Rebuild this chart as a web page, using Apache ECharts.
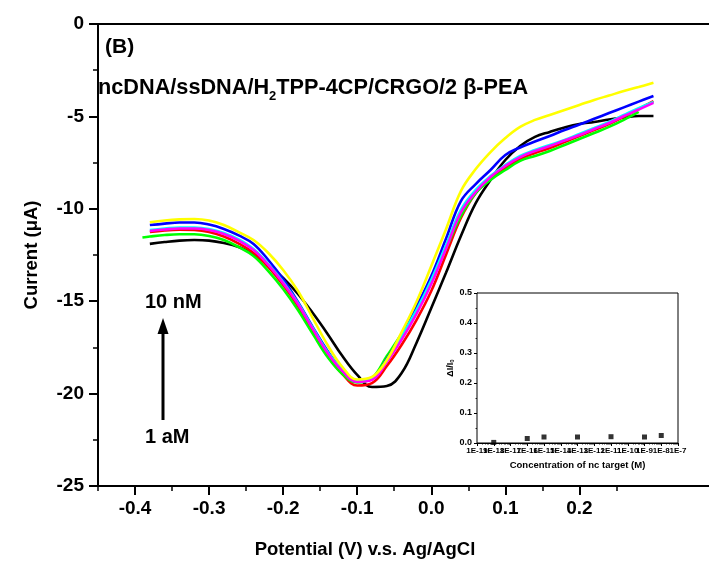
<!DOCTYPE html>
<html>
<head>
<meta charset="utf-8">
<script src="https://cdn.jsdelivr.net/npm/echarts@6/dist/echarts.min.js"></script>
<style>html,body{margin:0;padding:0;background:#fff}#c{width:709px;height:565px}</style>
</head>
<body>
<div id="c"></div>
<script>
// Main DPV curves: potential (V) vs current (uA)
const potentials = [-0.39, -0.38, -0.36, -0.34, -0.32, -0.30, -0.28, -0.26, -0.24, -0.22, -0.20, -0.18, -0.16, -0.14, -0.12, -0.10, -0.08, -0.06, -0.04, -0.02, 0.00, 0.02, 0.04, 0.06, 0.08, 0.10, 0.12, 0.14, 0.16, 0.18, 0.20, 0.22, 0.24, 0.26, 0.28, 0.30];
const curBlack   = [null, -11.90, -11.80, -11.72, -11.69, -11.72, -11.85, -12.07, -12.45, -13.04, -13.74, -14.61, -15.64, -16.77, -17.97, -18.99, -19.64, -19.59, -18.89, -17.26, -15.37, -13.45, -11.47, -9.69, -8.44, -7.36, -6.60, -6.11, -5.84, -5.60, -5.41, -5.30, -5.17, -5.06, -4.98, -4.98];
const curRed     = [null, -11.26, -11.17, -11.13, -11.15, -11.26, -11.50, -11.88, -12.39, -13.15, -14.12, -15.26, -16.61, -17.91, -18.94, -19.56, -19.43, -18.51, -17.36, -16.02, -14.45, -12.47, -10.50, -9.15, -8.39, -7.79, -7.31, -6.98, -6.71, -6.39, -6.06, -5.74, -5.41, -5.03, -4.60, -4.17];
const curGreen   = [-11.55, -11.50, -11.42, -11.38, -11.38, -11.47, -11.69, -12.07, -12.55, -13.37, -14.34, -15.48, -16.77, -18.02, -18.94, -19.40, -19.16, -17.97, -16.76, -15.48, -13.91, -12.15, -10.39, -9.15, -8.44, -7.90, -7.41, -7.14, -6.87, -6.55, -6.22, -5.90, -5.57, -5.19, -4.76, null];
const curBlue    = [null, -10.88, -10.80, -10.74, -10.74, -10.85, -11.09, -11.44, -11.90, -12.77, -13.80, -15.04, -16.40, -17.69, -18.72, -19.29, -19.21, -18.13, -16.87, -15.31, -13.64, -11.61, -9.58, -8.66, -7.90, -7.09, -6.68, -6.36, -6.06, -5.74, -5.44, -5.13, -4.82, -4.51, -4.20, -3.90];
const curCyan    = [null, -11.15, -11.07, -11.01, -11.01, -11.09, -11.31, -11.66, -12.18, -12.99, -13.96, -15.10, -16.45, -17.75, -18.72, -19.32, -19.21, -18.18, -16.88, -15.48, -13.85, -11.96, -10.06, -8.98, -8.23, -7.63, -7.14, -6.82, -6.55, -6.28, -5.95, -5.63, -5.30, -4.92, -4.55, -4.22];
const curMagenta = [null, -11.20, -11.12, -11.07, -11.07, -11.15, -11.36, -11.72, -12.23, -13.04, -14.02, -15.15, -16.50, -17.80, -18.78, -19.37, -19.26, -18.29, -17.08, -15.69, -14.07, -12.15, -10.20, -9.09, -8.28, -7.68, -7.20, -6.87, -6.60, -6.30, -6.01, -5.68, -5.36, -4.98, -4.63, -4.27];
const curYellow  = [null, -10.73, -10.63, -10.57, -10.55, -10.63, -10.88, -11.26, -11.69, -12.39, -13.31, -14.45, -15.91, -17.37, -18.56, -19.24, -19.10, -18.18, -16.67, -15.04, -13.10, -11.09, -9.04, -7.85, -6.93, -6.17, -5.57, -5.19, -4.92, -4.65, -4.38, -4.11, -3.87, -3.63, -3.41, -3.18];
const curveNames  = ['1 aM', '100 aM', '1 fM', '100 fM', '10 pM', '1 nM', '10 nM'];
const curveColors = ['#000000', '#ff0000', '#00ff00', '#0000ff', '#00ffff', '#ff00ff', '#ffff00'];
const curveData   = [curBlack, curRed, curGreen, curBlue, curCyan, curMagenta, curYellow];

// Main axis ticks
const xMajorTicks = [-0.4, -0.3, -0.2, -0.1, 0.0, 0.1, 0.2];
const xMinorTicks = [-0.45, -0.35, -0.25, -0.15, -0.05, 0.05, 0.15, 0.25];

// Inset: relative response vs concentration
const insetConc = [1e-18, 1e-16, 1e-15, 1e-13, 1e-11, 1e-9, 1e-8];
const insetResp = [0.002, 0.015, 0.020, 0.020, 0.021, 0.020, 0.025];
const insetLabelsOdd  = [-19, -17, -15, -13, -11, -9, -7];   // exponents of the inset tick labels
const insetLabelsEven = [-18, -16, -14, -12, -10, -8];
const insetMinorTicks = [];
for (let d = -19; d < -7; d++) { for (let k = 2; k <= 9; k++) insetMinorTicks.push(d + Math.log10(k)); }

const FF = '"Liberation Sans", Arial, sans-serif';
const chart = echarts.init(document.getElementById('c'), null, {renderer: 'canvas'});

const series = curveData.map((arr, i) => ({
  type: 'line', name: curveNames[i], xAxisIndex: 0, yAxisIndex: 0,
  data: potentials.map((p, j) => [p, arr[j]]),
  showSymbol: false, smooth: 0.4, connectNulls: false,
  lineStyle: {color: curveColors[i], width: 2.6}, itemStyle: {color: curveColors[i]},
  z: 2 + i, silent: true, animation: false
}));
series.push({
  type: 'scatter', xAxisIndex: 3, yAxisIndex: 1,
  data: insetConc.map((c, j) => [Math.log10(c), insetResp[j]]),
  symbol: 'rect', symbolSize: 5, itemStyle: {color: '#000'}, z: 20, animation: false
});

const axisBlack = {show: true, onZero: false, lineStyle: {color: '#000', width: 2}};
const insetLabelStyle = {margin: 4, color: '#000', fontSize: 8, fontWeight: 'bold', fontFamily: FF, hideOverlap: false,
                         showMinLabel: true, showMaxLabel: true, formatter: v => '1E' + v};
chart.setOption({
  animation: false,
  backgroundColor: '#fff',
  grid: [
    {left: 98, top: 24, right: -3, bottom: 79, show: false},
    {left: 477, top: 293, width: 201, height: 150, show: true, borderColor: '#000', borderWidth: 1, backgroundColor: '#fff', z: 10}
  ],
  xAxis: [
    {type: 'value', gridIndex: 0, min: -0.45, max: 0.375, position: 'bottom',
     axisLine: axisBlack,
     axisTick: {show: true, length: 9, customValues: xMajorTicks, lineStyle: {color: '#000', width: 2}},
     axisLabel: {customValues: xMajorTicks, margin: 13, color: '#000', fontSize: 19, fontWeight: 'bold', fontFamily: FF,
                 formatter: v => (Math.abs(v) < 1e-9 ? 0 : v).toFixed(1)},
     splitLine: {show: false}},
    {type: 'value', gridIndex: 0, min: -0.45, max: 0.375, position: 'bottom',
     axisLine: {show: false, onZero: false},
     axisTick: {show: true, length: 5, customValues: xMinorTicks, lineStyle: {color: '#000', width: 1.5}},
     axisLabel: {show: false}, splitLine: {show: false}},
    {type: 'value', gridIndex: 0, min: -0.45, max: 0.375, position: 'top',
     axisLine: axisBlack, axisTick: {show: false}, axisLabel: {show: false}, splitLine: {show: false}},
    {type: 'value', gridIndex: 1, min: -19, max: -7, interval: 1, position: 'bottom',
     axisLine: {show: true, onZero: false, lineStyle: {color: '#000', width: 1}},
     axisTick: {show: true, length: 3, lineStyle: {color: '#000', width: 1}},
     axisLabel: Object.assign({customValues: insetLabelsOdd}, insetLabelStyle),
     name: 'Concentration of nc target (M)', nameLocation: 'middle', nameGap: 17,
     nameTextStyle: {color: '#000', fontSize: 9.5, fontWeight: 'bold', fontFamily: FF},
     splitLine: {show: false}},
    {type: 'value', gridIndex: 1, min: -19, max: -7, position: 'bottom',
     axisLine: {show: false, onZero: false},
     axisTick: {show: true, length: 1.5, customValues: insetMinorTicks, lineStyle: {color: '#000', width: 0.8}},
     axisLabel: {show: false}, splitLine: {show: false}},
    {type: 'value', gridIndex: 1, min: -19, max: -7, position: 'bottom',
     axisLine: {show: false, onZero: false},
     axisTick: {show: false},
     axisLabel: Object.assign({customValues: insetLabelsEven}, insetLabelStyle),
     splitLine: {show: false}}
  ],
  yAxis: [
    {type: 'value', gridIndex: 0, min: -25, max: 0, interval: 5, position: 'left',
     axisLine: axisBlack,
     axisTick: {show: true, length: 9, lineStyle: {color: '#000', width: 2}},
     minorTick: {show: true, splitNumber: 2, length: 5, lineStyle: {color: '#000', width: 1.5}},
     axisLabel: {margin: 14, color: '#000', fontSize: 19, fontWeight: 'bold', fontFamily: FF},
     name: 'Current (\u03bcA)', nameLocation: 'middle', nameGap: 57, nameRotate: 90,
     nameTextStyle: {color: '#000', fontSize: 18.5, fontWeight: 'bold', fontFamily: FF},
     splitLine: {show: false}},
    {type: 'value', gridIndex: 1, min: 0, max: 0.5, interval: 0.1, position: 'left',
     axisLine: {show: true, onZero: false, lineStyle: {color: '#000', width: 1}},
     axisTick: {show: true, length: 3, lineStyle: {color: '#000', width: 1}},
     minorTick: {show: true, splitNumber: 2, length: 1.5, lineStyle: {color: '#000', width: 0.8}},
     axisLabel: {margin: 5, color: '#000', fontSize: 9, fontWeight: 'bold', fontFamily: FF, formatter: v => v.toFixed(1)},
     name: '{a|\u0394I/I}{s|0}', nameLocation: 'middle', nameGap: 20, nameRotate: 90,
     nameTextStyle: {color: '#000', fontSize: 9, fontWeight: 'bold', fontFamily: FF,
       rich: {a: {fontSize: 9, fontWeight: 'bold', fontFamily: FF, color: '#000'},
              s: {fontSize: 6, fontWeight: 'bold', fontFamily: FF, color: '#000', verticalAlign: 'bottom', padding: [4, 0, 0, 0]}}},
     splitLine: {show: false}}
  ],
  series: series,
  graphic: [
    {type: 'text', left: 105, top: 37, z: 50, style: {text: '(B)', fill: '#000', font: 'bold 21px ' + FF}},
    {type: 'text', x: 98, y: 88, z: 50, style: {
      text: '{m|ncDNA/ssDNA/H}{s|2}{m|TPP-4CP/CRGO/2 \u03b2-PEA}',
      verticalAlign: 'middle', align: 'left',
      rich: {m: {fill: '#000', fontSize: 21.7, fontWeight: 'bold', fontFamily: FF, lineHeight: 24},
             s: {fill: '#000', fontSize: 13, fontWeight: 'bold', fontFamily: FF, verticalAlign: 'bottom', padding: [16, 0, 0, 0]}}}},
    {type: 'text', x: 365, y: 550, z: 50, style: {text: 'Potential (V) v.s. Ag/AgCl', fill: '#000', font: 'bold 18.5px ' + FF, align: 'center', verticalAlign: 'middle'}},
    {type: 'text', x: 145, y: 302, z: 50, style: {text: '10 nM', fill: '#000', font: 'bold 20px ' + FF, align: 'left', verticalAlign: 'middle'}},
    {type: 'text', x: 145, y: 437, z: 50, style: {text: '1 aM', fill: '#000', font: 'bold 20px ' + FF, align: 'left', verticalAlign: 'middle'}},
    {type: 'line', z: 50, shape: {x1: 163, y1: 420, x2: 163, y2: 332}, style: {stroke: '#000', lineWidth: 3}},
    {type: 'polygon', z: 50, shape: {points: [[157.5, 334], [168.5, 334], [163, 318]]}, style: {fill: '#000'}}
  ]
});
</script>
</body>
</html>
